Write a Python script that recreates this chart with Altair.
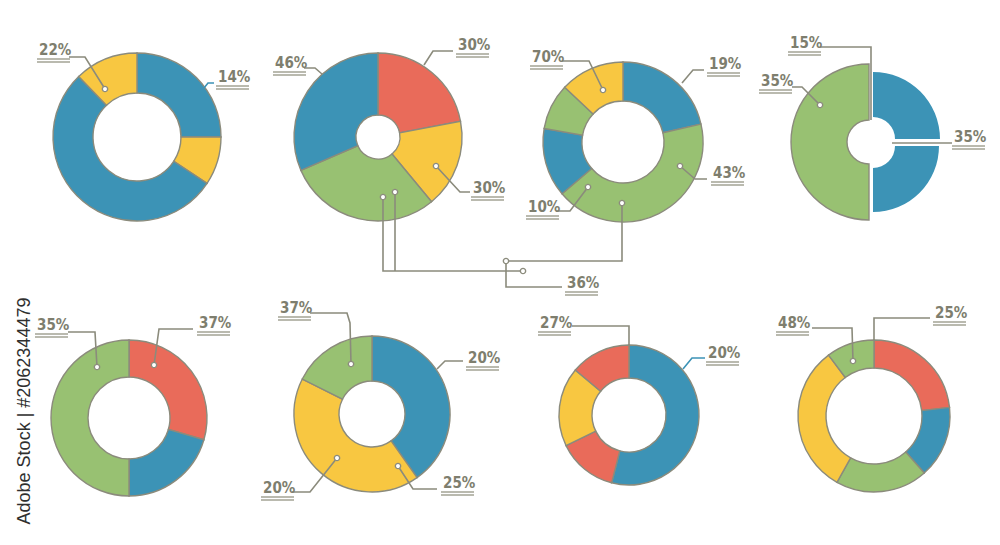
import math
import altair as alt
import pandas as pd

# ---------------- values (percent per slice, clockwise from 12 o'clock) -------------
PIE1_VALUES = [25.0, 9.3, 53.5, 12.2]
PIE1_SERIES = ["Blue", "Yellow", "Blue", "Yellow"]
PIE2_VALUES = [22.0, 17.0, 29.5, 31.5]
PIE2_SERIES = ["Red", "Yellow", "Green", "Blue"]
PIE3_VALUES = [21.4, 42.4, 13.9, 9.3, 13.0]
PIE3_SERIES = ["Blue", "Green", "Blue", "Green", "Yellow"]
PIE4_VALUES = [25.0, 25.0, 50.0]
PIE4_SERIES = ["Blue", "Blue", "Green"]
PIE5_VALUES = [29.5, 20.5, 50.0]
PIE5_SERIES = ["Red", "Blue", "Green"]
PIE6_VALUES = [40.2, 42.2, 17.6]
PIE6_SERIES = ["Blue", "Yellow", "Green"]
PIE7_VALUES = [54.0, 13.8, 18.3, 13.9]
PIE7_SERIES = ["Blue", "Red", "Yellow", "Red"]
PIE8_VALUES = [23.2, 15.3, 19.6, 31.7, 10.2]
PIE8_SERIES = ["Red", "Blue", "Green", "Yellow", "Green"]

LABEL_TEXTS = ["22%", "14%", "46%", "30%", "30%", "70%", "19%", "43%", "10%", "36%",
               "15%", "35%", "35%", "35%", "37%", "37%", "20%", "25%", "20%", "27%",
               "20%", "48%", "25%"]

SERIES = ["Blue", "Yellow", "Red", "Green"]
SERIES_COLORS = ["#3c93b6", "#f8c741", "#e96b5a", "#98c172"]

# ---------------- layout (image pixel space) ----------------
GRAY = "#8b8b7c"
TEXT = "#7e7e6e"
LIGHT = "#a3a395"
BLUE = SERIES_COLORS[0]

PIE_LAYOUT = [  # center x, center y, outer radius, inner radius
    (137, 137, 84, 44),
    (378, 137, 84, 22),
    (623, 142, 80, 41),
    (869, 142, 78, 22),
    (129, 418, 78, 41),
    (372, 414, 78, 33),
    (629, 415, 70, 37),
    (874, 416, 76, 48),
]
# exploded slices of pie 4: (pie, slice) -> dx, dy, outer radius, outline opacity
EXPLODE = {(3, 0): (4, -3, 67, 0.0), (3, 1): (4, 4, 66, 0.0)}

PIES = [
    (PIE1_VALUES, PIE1_SERIES), (PIE2_VALUES, PIE2_SERIES),
    (PIE3_VALUES, PIE3_SERIES), (PIE4_VALUES, PIE4_SERIES),
    (PIE5_VALUES, PIE5_SERIES), (PIE6_VALUES, PIE6_SERIES),
    (PIE7_VALUES, PIE7_SERIES), (PIE8_VALUES, PIE8_SERIES),
]

# label anchor (left x, middle y), leader paths, ring positions, line colour
CALLOUT_LAYOUT = [
    (39, 50, [[(105, 89), (85, 57), (69, 57)]], [(105, 89)], GRAY),
    (218, 77, [[(204, 88), (208, 83), (214, 83)]], [], BLUE),
    (275, 63, [[(322, 74), (315, 68), (304, 68)]], [], GRAY),
    (458, 45, [[(424, 65), (433, 51), (453, 51)]], [], GRAY),
    (473, 188, [[(436, 166), (460, 192), (470, 192)]], [(436, 166)], GRAY),
    (532, 57, [[(603, 90), (589, 61), (562, 61)]], [(603, 90)], GRAY),
    (709, 64, [[(682, 83), (693, 70), (704, 70)]], [], GRAY),
    (713, 173, [[(680, 166), (695, 179), (707, 179)]], [(680, 166)], GRAY),
    (528, 207, [[(588, 187), (570, 211), (556, 211)]], [(588, 187)], GRAY),
    (567, 283, [[(383, 197), (383, 271), (523, 271)],
                [(395, 192), (395, 271)],
                [(622, 203), (622, 261), (506, 261)],
                [(506, 261), (506, 287), (562, 287)]],
     [(383, 197), (395, 192), (523, 271), (622, 203), (506, 261)], GRAY),
    (790, 43, [[(871, 120), (871, 47), (820, 47)]], [], GRAY),
    (761, 81, [[(820, 105), (802, 87), (792, 87)]], [(820, 105)], GRAY),
    (954, 137, [[(892, 143), (952, 143)]], [], GRAY),
    (37, 325, [[(97, 367), (95, 332), (68, 332)]], [(97, 367)], GRAY),
    (199, 323, [[(154, 365), (159, 329), (193, 329)]], [(154, 365)], GRAY),
    (280, 308, [[(351, 364), (350, 323), (347, 313), (310, 313)]], [(351, 364)], GRAY),
    (468, 358, [[(437, 369), (445, 361), (463, 361)]], [], GRAY),
    (443, 483, [[(398, 466), (413, 489), (437, 489)]], [(398, 466)], GRAY),
    (263, 488, [[(337, 458), (310, 492), (292, 492)]], [(337, 458)], GRAY),
    (540, 323, [[(629, 345), (629, 326), (572, 326)]], [], GRAY),
    (708, 353, [[(683, 369), (692, 358), (705, 358)]], [], BLUE),
    (778, 323, [[(853, 361), (852, 328), (812, 328)]], [(853, 361)], GRAY),
    (935, 313, [[(874, 340), (874, 318), (930, 318)]], [], GRAY),
]

# ---------------- tables ----------------
arc_rows = []
for p, (vals, sers) in enumerate(PIES):
    cx, cy, ro, ri = PIE_LAYOUT[p]
    total = sum(vals)
    acc = 0.0
    for s, (v, ser) in enumerate(zip(vals, sers)):
        dx, dy, r_out, so = EXPLODE.get((p, s), (0, 0, ro, 1.0))
        arc_rows.append(dict(pie=p, slice=s, series=ser, value=v,
                             t0=acc / total * 2 * math.pi,
                             t1=(acc + v) / total * 2 * math.pi,
                             cx=cx + dx, cy=cy + dy, ro=r_out, ri=ri, so=so))
        acc += v
arcs = pd.DataFrame(arc_rows)

line_rows, dot_rows, label_rows, ph_rows = [], [], [], []
pid = 0
for text, (lx, ly, paths, dots, col) in zip(LABEL_TEXTS, CALLOUT_LAYOUT):
    label_rows.append(dict(text=text, x=lx, y=ly))
    for path in paths:
        for k, (px, py) in enumerate(path):
            line_rows.append(dict(pid=pid, k=k, x=px, y=py, col=col))
        pid += 1
    for (px, py) in dots:
        dot_rows.append(dict(x=px, y=py))
    for off in [9, 12]:
        ph_rows.append(dict(x=lx - 2, x2=lx + 31, y=ly + off))
lines = pd.DataFrame(line_rows)
dots_df = pd.DataFrame(dot_rows)
labels = pd.DataFrame(label_rows)
ph = pd.DataFrame(ph_rows)

xs = alt.Scale(domain=[8, 992], nice=False, zero=False)
ys = alt.Scale(domain=[8, 537], nice=False, zero=False, reverse=True)

arc_layer = alt.Chart(arcs).mark_arc(stroke=GRAY, strokeWidth=1.4).encode(
    x=alt.X("cx:Q", scale=xs, axis=None),
    y=alt.Y("cy:Q", scale=ys, axis=None),
    theta=alt.Theta("t0:Q", scale=None, stack=None),
    theta2=alt.Theta2("t1:Q"),
    radius=alt.Radius("ro:Q", scale=None),
    radius2=alt.Radius2("ri:Q"),
    color=alt.Color("series:N", scale=alt.Scale(domain=SERIES, range=SERIES_COLORS), legend=None),
    strokeOpacity=alt.StrokeOpacity("so:Q", scale=None),
)

line_layer = alt.Chart(lines).mark_line(strokeWidth=1.6).encode(
    x=alt.X("x:Q", scale=xs, axis=None),
    y=alt.Y("y:Q", scale=ys, axis=None),
    detail="pid:N",
    order="k:Q",
    color=alt.Color("col:N", scale=None),
)

dot_layer = alt.Chart(dots_df).mark_point(
    shape="circle", filled=True, fill="white", stroke=GRAY, strokeWidth=1.4, size=28, opacity=1
).encode(
    x=alt.X("x:Q", scale=xs, axis=None),
    y=alt.Y("y:Q", scale=ys, axis=None),
)

ph_layer = alt.Chart(ph).mark_rule(color=LIGHT, strokeWidth=1.3).encode(
    x=alt.X("x:Q", scale=xs, axis=None),
    x2="x2:Q",
    y=alt.Y("y:Q", scale=ys, axis=None),
)

text_layer = alt.Chart(labels).mark_text(
    align="left", baseline="middle", font="DejaVu Sans Condensed",
    fontSize=15, fontWeight="bold", color=TEXT
).encode(
    x=alt.X("x:Q", scale=xs, axis=None),
    y=alt.Y("y:Q", scale=ys, axis=None),
    text="text:N",
)

stock = alt.Chart(pd.DataFrame({"t": ["Adobe Stock | #2062344479"]})).mark_text(
    angle=270, align="center", baseline="middle", font="Liberation Sans",
    fontSize=18, color="#2f2f2f"
).encode(x=alt.value(17), y=alt.value(403), text="t:N")

chart = alt.layer(arc_layer, line_layer, ph_layer, dot_layer, text_layer, stock).properties(
    width=984, height=529, padding=0, autosize="none", background="white"
).configure_view(stroke=None)

chart.save("out.html", embed_options={"renderer": "svg", "actions": False})
